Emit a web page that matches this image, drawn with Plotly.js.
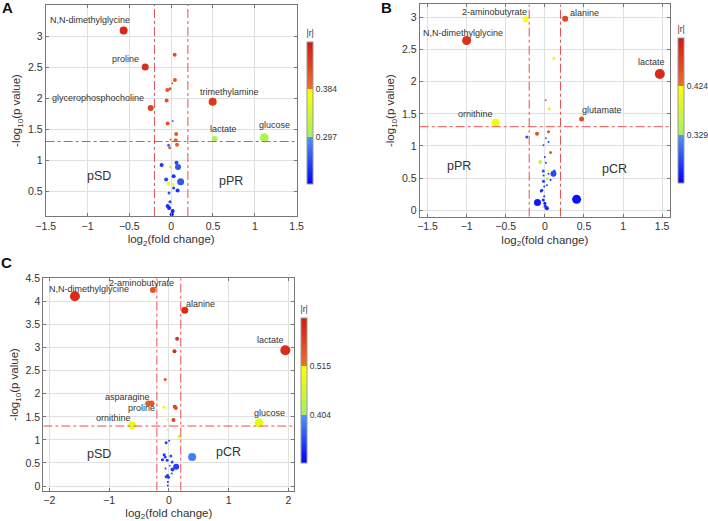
<!DOCTYPE html>
<html>
<head>
<meta charset="utf-8">
<script src="https://cdn.plot.ly/plotly-3.0.1.min.js"></script>
<style>
  html, body { margin: 0; padding: 0; background: #fff; }
  #graph { width: 708px; height: 521px; }
</style>
</head>
<body>
<div id="graph"></div>
<script>
//***** data
// panel A : pSD vs pPR
var aX = [-0.568, -0.31, -0.245, 0.496, 0.52, 1.113,
  0.042, 0.045, 0.013, -0.014, -0.046, -0.054, 0.018, -0.042, 0.06, -0.006, 0.054, 0.07, -0.03, -0.018,
  -0.114, 0.064, -0.006, 0.082, 0.03, -0.06, 0.113, -0.034, 0.022, 0.03, 0.077, -0.025, -0.014, -0.042, -0.025, 0.018, 0.007];
var aY = [3.09, 2.5, 1.84, 1.94, 1.34, 1.36,
  2.70, 2.29, 2.24, 2.15, 2.13, 1.96, 1.63, 1.59, 1.42, 1.33, 1.32, 1.25, 1.24, 1.20,
  0.92, 0.96, 0.89, 0.89, 0.74, 0.69, 0.65, 0.62, 0.61, 0.55, 0.51, 0.47, 0.33, 0.26, 0.23, 0.18, 0.13];
var aR = [0.455, 0.45, 0.43, 0.44, 0.305, 0.31,
  0.42, 0.41, 0.40, 0.41, 0.41, 0.42, 0.27, 0.41, 0.41, 0.40, 0.40, 0.40, 0.27, 0.40,
  0.24, 0.25, 0.33, 0.26, 0.24, 0.25, 0.26, 0.37, 0.37, 0.25, 0.24, 0.26, 0.25, 0.24, 0.23, 0.23, 0.22];
var aS = [8, 7, 6, 8, 6, 9,
  4, 4, 2, 3, 4, 4, 2, 4, 4, 2, 4, 4, 3, 3,
  4, 4, 3, 6, 4, 4, 7, 4, 3, 3, 4, 3, 3, 4, 4, 4, 4];
var aNames = ['N,N-dimethylglycine', 'proline', 'glycerophosphocholine', 'trimethylamine', 'lactate', 'glucose'];

// panel B : pPR vs pCR
var bX = [-0.244, 0.26, -1.0, 1.47, 0.47, -0.63,
  0.115, 0.01, 0.056, -0.23, -0.10, 0.047, 0.013, 0.047, -0.017, 0.073, 0.0, -0.06, 0.013, -0.02,
  0.045, 0.12, 0.11, 0.047, -0.017, 0.03, 0.073, -0.017, 0.026, -0.008, -0.038, -0.047, -0.008, -0.02,
  0.0, -0.094, 0.406, -0.02, 0.013, 0.026, 0.004];
var bY = [2.97, 2.98, 2.64, 2.12, 1.42, 1.36,
  2.36, 1.71, 1.58, 1.14, 1.19, 1.22, 1.12, 1.06, 1.01, 0.90, 0.83, 0.75, 0.74, 0.61,
  0.61, 0.61, 0.57, 0.57, 0.54, 0.49, 0.47, 0.45, 0.39, 0.37, 0.31, 0.30, 0.22, 0.16,
  0.11, 0.12, 0.17, 0.05, 0.05, 0.03, 0.07];
var bR = [0.42, 0.47, 0.49, 0.50, 0.46, 0.41,
  0.40, 0.45, 0.38, 0.28, 0.46, 0.46, 0.30, 0.28, 0.28, 0.45, 0.27, 0.36, 0.28, 0.28,
  0.40, 0.29, 0.28, 0.27, 0.27, 0.36, 0.26, 0.27, 0.28, 0.27, 0.28, 0.27, 0.26, 0.26,
  0.25, 0.25, 0.245, 0.36, 0.27, 0.26, 0.27];
var bS = [6, 6, 9, 10, 5, 8,
  3, 2, 3, 3, 4, 3, 2, 2, 2, 3, 2, 4, 2, 3,
  2, 3, 6, 2, 2, 3, 2, 3, 2, 2, 3, 3, 2, 3,
  3, 7, 9, 2, 3, 4, 3];
var bNames = ['2-aminobutyrate', 'alanine', 'N,N-dimethylglycine', 'lactate', 'glutamate', 'ornithine'];

// panel C : pSD vs pCR
var cX = [-1.571, -0.267, 0.267, 1.95, -0.345, -0.29, -0.613, 1.51,
  0.139, 0.095, -0.061, -0.084, 0.10, 0.117, -0.017, 0.078, 0.01, -0.02, 0.178, 0.006,
  -0.045, -0.078, -0.061, 0.033, -0.106, -0.028, 0.056, 0.39, 0.123, 0.061, 0.017, -0.022,
  -0.006, -0.045, -0.017, -0.017, -0.056, 0.05];
var cY = [4.11, 4.245, 3.81, 2.94, 1.79, 1.79, 1.32, 1.37,
  3.19, 2.92, 2.31, 1.71, 1.72, 1.69, 1.44, 1.43, 1.31, 1.22, 1.07, 0.98,
  0.94, 0.68, 0.63, 0.65, 0.57, 0.56, 0.52, 0.63, 0.42, 0.36, 0.44, 0.23,
  0.19, 0.20, 0.09, 0.01, 0.38, 0.27];
var cR = [0.60, 0.55, 0.60, 0.60, 0.54, 0.55, 0.49, 0.49,
  0.59, 0.60, 0.56, 0.49, 0.59, 0.56, 0.48, 0.57, 0.48, 0.48, 0.49, 0.34,
  0.34, 0.33, 0.34, 0.35, 0.33, 0.34, 0.35, 0.385, 0.34, 0.34, 0.38, 0.33,
  0.33, 0.34, 0.33, 0.33, 0.34, 0.35];
var cS = [10, 6, 7, 10, 6, 6, 8, 9,
  4, 4, 3, 3, 4, 4, 2, 4, 2, 2, 4, 2,
  3, 3, 3, 3, 3, 3, 3, 8, 6, 4, 2, 3,
  3, 3, 2, 2, 2, 2];
var cNames = ['N,N-dimethylglycine', '2-aminobutyrate', 'alanine', 'lactate', 'asparagine', 'proline', 'ornithine', 'glucose'];

// colorbar boundaries shown on each bar
var aTicks = [0.297, 0.384];
var bTicks = [0.329, 0.424];
var cTicks = [0.404, 0.515];
//***** End of data

// three-band jet-like map (blue | green-yellow | orange-red)
var bandScale = [
  [0, 'rgb(0,0,255)'], [0.3333, 'rgb(80,150,245)'],
  [0.3333, 'rgb(165,238,105)'], [0.6667, 'rgb(255,255,0)'],
  [0.6667, 'rgb(235,115,40)'], [1, 'rgb(212,22,22)']
];

var textCol = '#333';
var fontFam = 'Liberation Sans, Arial, sans-serif';

function scatter(x, y, r, s, xa, ya, ca) {
  return {
    x: x, y: y, xaxis: xa, yaxis: ya,
    type: 'scatter', mode: 'markers', showlegend: false, hoverinfo: 'skip',
    marker: { color: r, size: s, coloraxis: ca, line: { width: 0 }, opacity: 1 }
  };
}

function cbar(ticks, x, yTop, lenPx) {
  // cmin/cmax so that the two boundaries split the bar in thirds
  var step = ticks[1] - ticks[0];
  return {
    colorscale: bandScale,
    cmin: ticks[0] - step,
    cmax: ticks[1] + step,
    colorbar: {
      x: x, xanchor: 'left', y: yTop, yanchor: 'top',
      len: lenPx, lenmode: 'pixels', thickness: 6,
      xpad: 0, ypad: 0,
      outlinewidth: 1, outlinecolor: '#999',
      tickvals: ticks, ticktext: ticks.map(String),
      ticks: '', tickfont: { size: 8.5, color: textCol, family: fontFam },
      title: { text: '|r|', side: 'top', font: { size: 8.5, color: textCol, family: fontFam } }
    }
  };
}

function axis(dom, rng, dt, title, anchor) {
  return {
    domain: dom, range: rng, dtick: dt, anchor: anchor,
    showgrid: true, gridcolor: '#e0e0e0', gridwidth: 1,
    zeroline: false, showline: true, mirror: 'ticks', linecolor: '#777', linewidth: 1,
    ticks: 'inside', ticklen: 3, tickcolor: '#777',
    tickfont: { size: 10.5, color: textCol, family: fontFam },
    title: { text: title, font: { size: 11.5, color: textCol, family: fontFam }, standoff: 4 }
  };
}

var xTitle = 'log<sub>2</sub>(fold change)';
var yTitle = '-log<sub>10</sub>(p value)';

var data = [
  scatter(aX, aY, aR, aS, 'x', 'y', 'coloraxis'),
  scatter(bX, bY, bR, bS, 'x2', 'y2', 'coloraxis2'),
  scatter(cX, cY, cR, cS, 'x3', 'y3', 'coloraxis3')
];

// threshold lines
var thr = { color: 'rgb(230,80,80)', width: 1, dash: 'dashdot' };
var shapes = [];
[['x', 'y', 3.5, 0.1, -1.5, 1.5], ['x2', 'y2', 3.2, -0.1, -1.6, 1.6], ['x3', 'y3', 4.5, -0.1, -2.1, 2.1]].forEach(function (p) {
  shapes.push({ type: 'line', xref: p[0], yref: p[1], x0: -0.2, x1: -0.2, y0: p[3], y1: p[2], line: thr });
  shapes.push({ type: 'line', xref: p[0], yref: p[1], x0: 0.2, x1: 0.2, y0: p[3], y1: p[2], line: thr });
  shapes.push({ type: 'line', xref: p[0], yref: p[1], x0: p[4], x1: p[5], y0: 1.3, y1: 1.3, line: thr });
});

// label offsets in pixels from their point
var aOff = [[-34, 10], [-20, 8], [-53, 10], [17, 10], [9, 10], [10, 13]];
var bOff = [[-31, 7], [19, 6], [-4, 8], [-8, 12], [20, 9], [-20, 9]];
var cOff = [[14, 7], [-11, 7], [16, 6], [-15, 10], [-21, 6], [-10, -5], [-19, 7], [10, 10]];

var annotations = [];
function addLabels(names, x, y, off, xr, yr) {
  names.forEach(function (n, i) {
    annotations.push({
      xref: xr, yref: yr, x: x[i], y: y[i], text: n, showarrow: false,
      xshift: off[i][0], yshift: off[i][1],
      font: { size: 9, color: textCol, family: fontFam }
    });
  });
}
addLabels(aNames, aX, aY, aOff, 'x', 'y');
addLabels(bNames, bX, bY, bOff, 'x2', 'y2');
addLabels(cNames, cX, cY, cOff, 'x3', 'y3');

// region names
var regFont = { size: 12.5, color: textCol, family: fontFam };
[['x', 'y', -0.86, 0.75, 'pSD'], ['x', 'y', 0.72, 0.66, 'pPR'],
 ['x2', 'y2', -1.1, 0.69, 'pPR'], ['x2', 'y2', 0.885, 0.65, 'pCR'],
 ['x3', 'y3', -1.16, 0.70, 'pSD'], ['x3', 'y3', 1.0, 0.74, 'pCR']].forEach(function (r) {
  annotations.push({ xref: r[0], yref: r[1], x: r[2], y: r[3], text: r[4], showarrow: false, font: regFont });
});

// panel letters
[[7, 7, 'A'], [386, 8, 'B'], [6, 262, 'C']].forEach(function (l) {
  annotations.push({
    xref: 'paper', yref: 'paper', x: l[0] / 708, y: 1 - l[1] / 521, text: '<b>' + l[2] + '</b>',
    showarrow: false, xanchor: 'center', yanchor: 'middle',
    font: { size: 15, color: '#111', family: fontFam }
  });
});

var layout = {
  width: 708, height: 521,
  margin: { l: 0, r: 0, t: 0, b: 0 },
  paper_bgcolor: '#fff', plot_bgcolor: '#fff',
  showlegend: false,
  xaxis: axis([0.0645, 0.419], [-1.5, 1.5], 0.5, xTitle, 'y'),
  yaxis: axis([0.5854, 0.9904], [0.1, 3.5], 0.5, yTitle, 'x'),
  xaxis2: axis([0.5928, 0.9463], [-1.6, 1.6], 0.5, xTitle, 'y2'),
  yaxis2: axis([0.584, 0.9914], [-0.1, 3.2], 0.5, yTitle, 'x2'),
  xaxis3: axis([0.0612, 0.4157], [-2.1, 2.1], 1, xTitle, 'y3'),
  yaxis3: axis([0.0582, 0.4658], [-0.1, 4.5], 0.5, yTitle, 'x3'),
  coloraxis: cbar(aTicks, 307 / 708, 1 - 27 / 521, 157),
  coloraxis2: cbar(bTicks, 678 / 708, 1 - 23 / 521, 160),
  coloraxis3: cbar(cTicks, 301 / 708, 1 - 303 / 521, 160),
  shapes: shapes,
  annotations: annotations
};

function plotGraph() {
  Plotly.newPlot('graph', data, layout, { staticPlot: true });
}
plotGraph();
</script>
</body>
</html>
